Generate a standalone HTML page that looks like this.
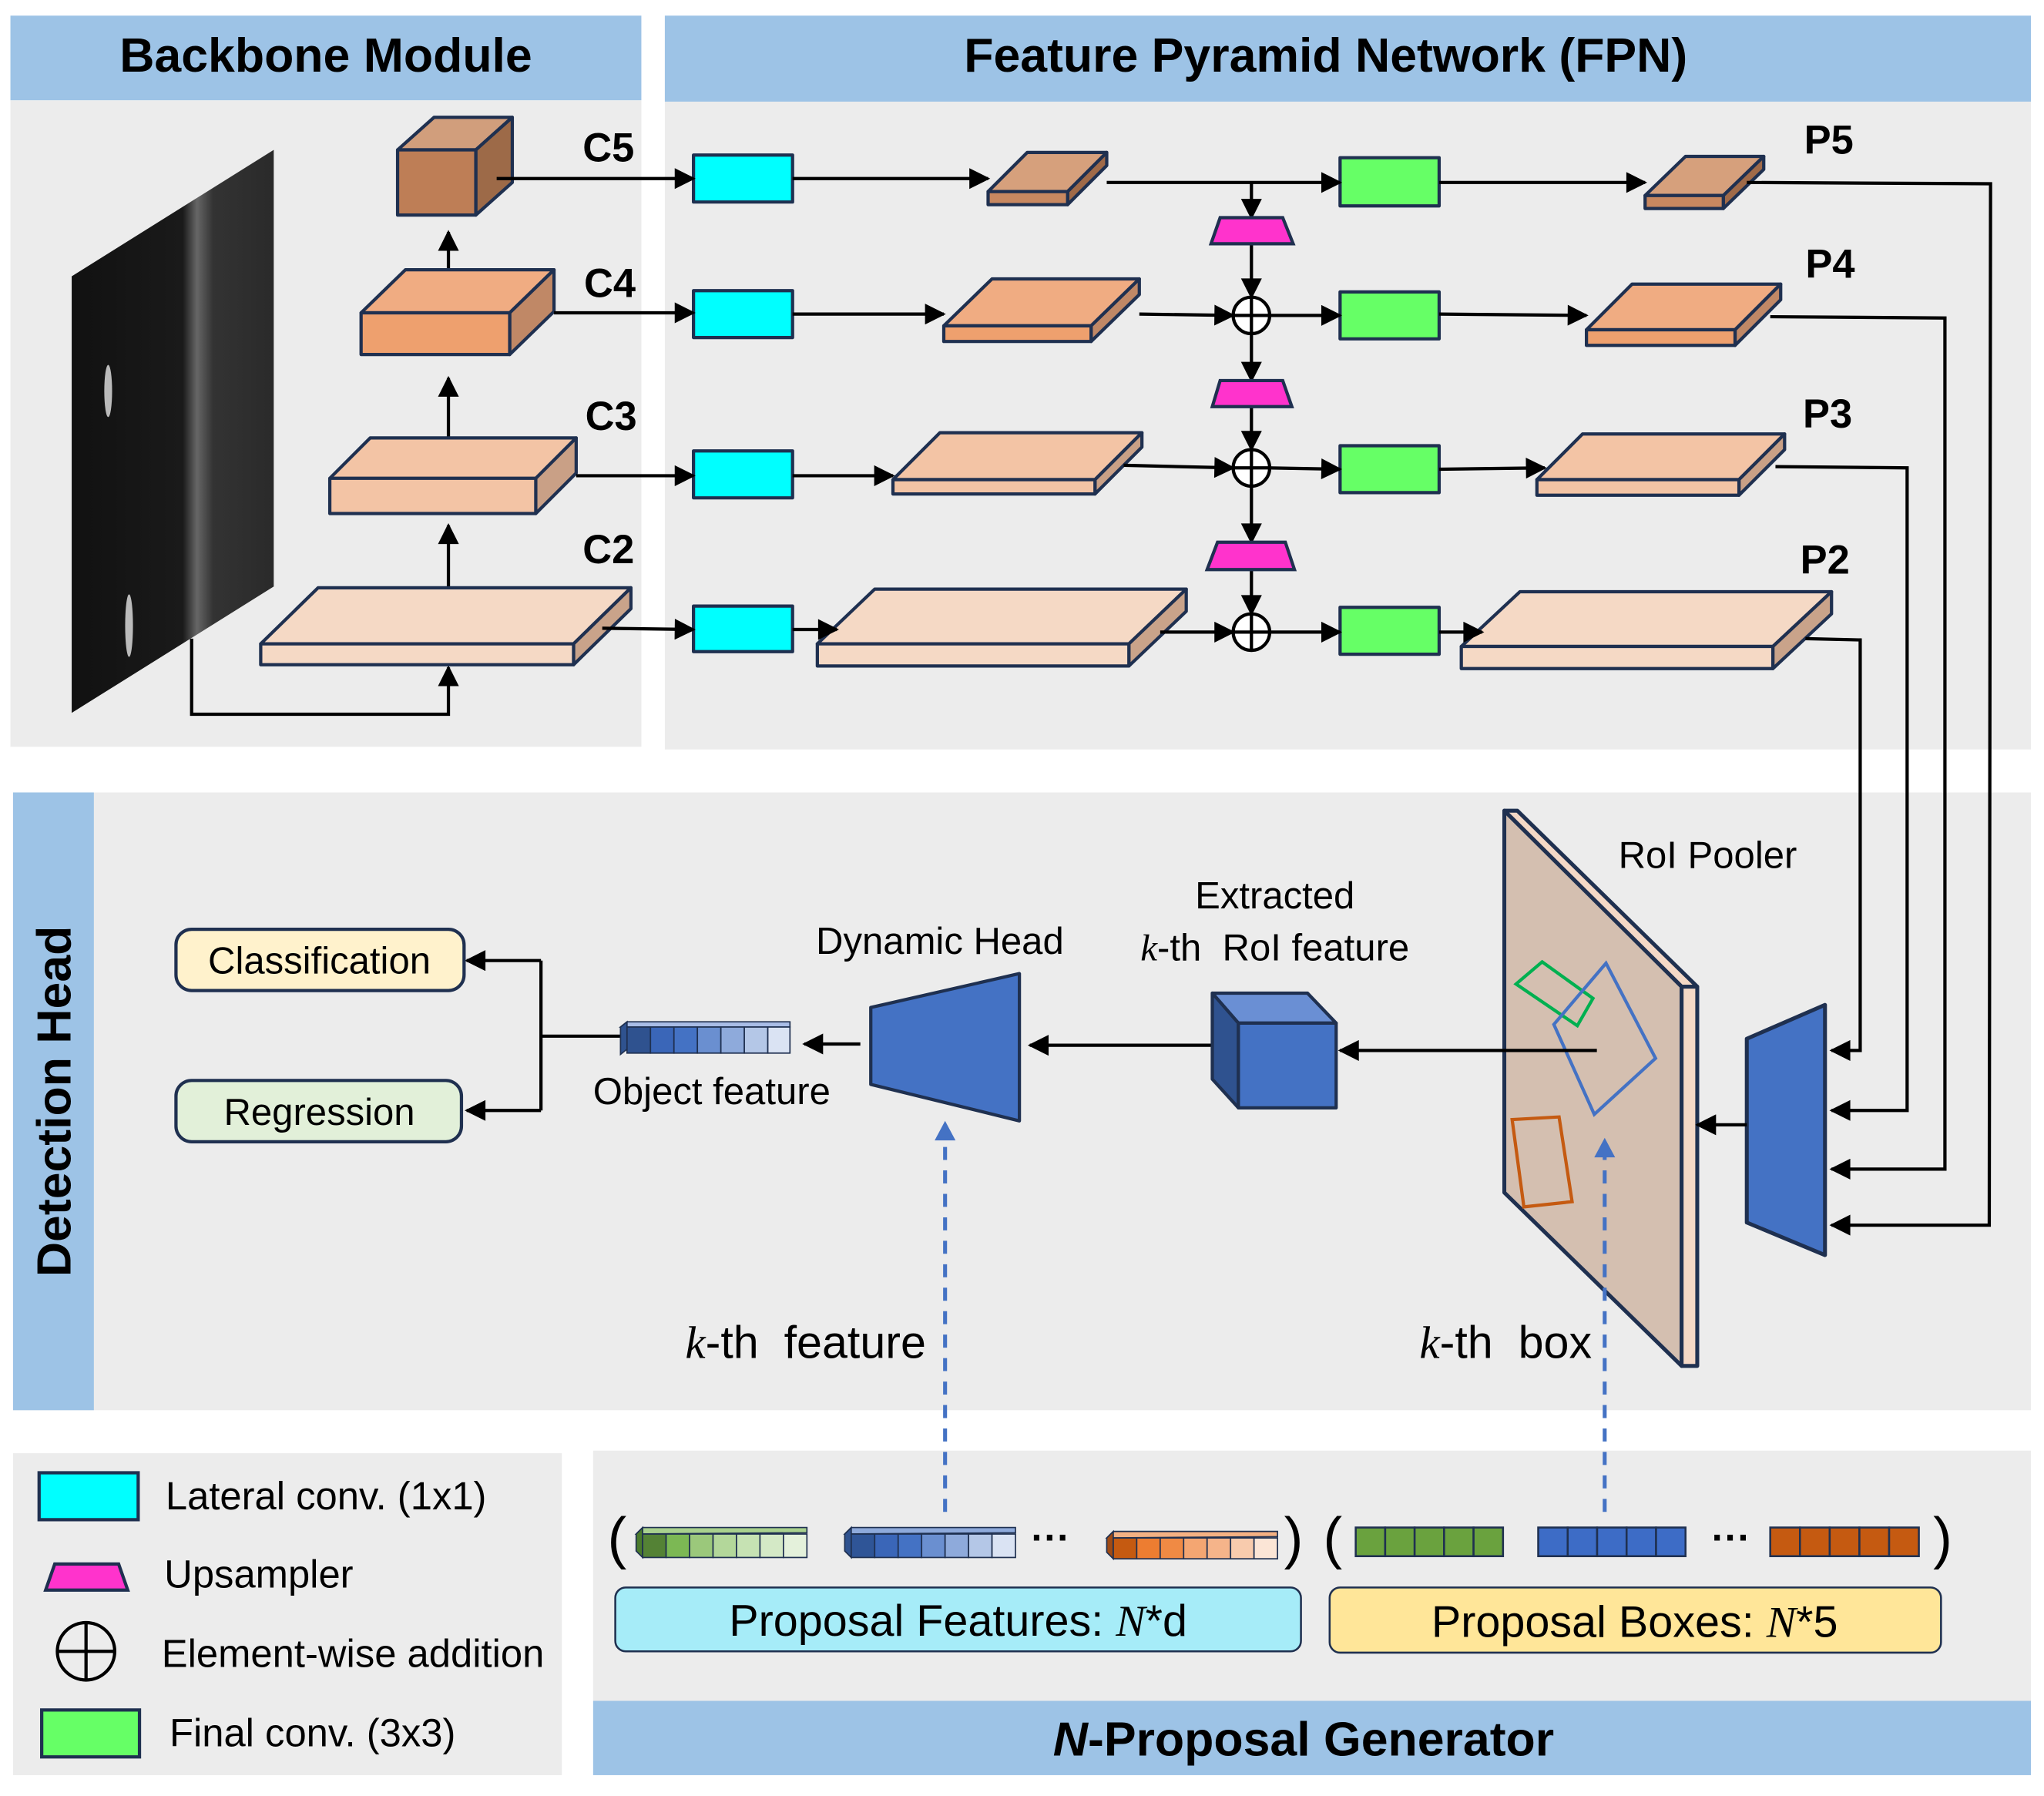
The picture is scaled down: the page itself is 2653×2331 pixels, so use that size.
<!DOCTYPE html>
<html><head><meta charset="utf-8"><style>
html,body{margin:0;padding:0;background:#fff;}
svg{display:block;}
text{font-family:"Liberation Sans",sans-serif;}
.b{font-weight:bold;}
</style></head><body>
<svg width="2653" height="2331" viewBox="0 0 1568 1378" preserveAspectRatio="none" xmlns="http://www.w3.org/2000/svg">
<defs>
<marker id="a" viewBox="0 0 10 10" refX="9" refY="5" markerWidth="18" markerHeight="16" markerUnits="userSpaceOnUse" orient="auto"><path d="M0,0 L10,5 L0,10 z" fill="#000"/></marker>
<linearGradient id="img" x1="0" y1="0" x2="1" y2="0">
<stop offset="0" stop-color="#111"/><stop offset="0.55" stop-color="#1a1a1a"/><stop offset="0.62" stop-color="#666"/><stop offset="0.7" stop-color="#333"/><stop offset="1" stop-color="#2a2a2a"/></linearGradient>
</defs>
<!-- panels -->
<rect x="8" y="12" width="484" height="65" fill="#9dc3e6"/>
<rect x="8" y="77" width="484" height="496" fill="#ececec"/>
<rect x="510" y="12" width="1048" height="66" fill="#9dc3e6"/>
<rect x="510" y="78" width="1048" height="497" fill="#ececec"/>
<text x="250" y="55" font-size="37" class="b" text-anchor="middle">Backbone Module</text>
<text x="1017" y="55" font-size="37" class="b" text-anchor="middle">Feature Pyramid Network (FPN)</text>
<rect x="10" y="608" width="1548" height="474" fill="#ececec"/>
<rect x="10" y="608" width="62" height="474" fill="#9dc3e6"/>
<text transform="translate(54,845) rotate(-90)" font-size="37" class="b" text-anchor="middle">Detection Head</text>
<rect x="10" y="1115" width="421" height="247" fill="#ececec"/>
<rect x="455" y="1113" width="1103" height="192" fill="#ececec"/>
<rect x="455" y="1305" width="1103" height="57" fill="#9dc3e6"/>
<text x="1000" y="1347" font-size="37" class="b" text-anchor="middle"><tspan font-style="italic">N</tspan>-Proposal Generator</text>

<!-- image -->
<polygon points="55,212 210,115 210,450 55,547" fill="url(#img)"/>
<ellipse cx="83" cy="300" rx="3" ry="20" fill="#bbb"/>
<ellipse cx="99" cy="480" rx="3" ry="24" fill="#bbb"/>
<polyline points="147,490 147,548 344,548 344,512" fill="none" stroke="#000" stroke-width="2.5" marker-end="url(#a)"/>
<line x1="344" y1="466" x2="344" y2="403" stroke="#000" stroke-width="2.5" marker-end="url(#a)"/>
<line x1="344" y1="354" x2="344" y2="290" stroke="#000" stroke-width="2.5" marker-end="url(#a)"/>
<line x1="344" y1="240" x2="344" y2="178" stroke="#000" stroke-width="2.5" marker-end="url(#a)"/>

<g stroke="#1f3050" stroke-width="2.5" stroke-linejoin="round">
<polygon points="200,494 244,451 484,451 440,494" fill="#f5d9c5"/><polygon points="440,494 484,451 484,467 440,510" fill="#c9a38a"/><rect x="200" y="494" width="240" height="16" fill="#f5d9c5"/>
<polygon points="253,367 284,336 442,336 411,367" fill="#f3c4a5"/><polygon points="411,367 442,336 442,363 411,394" fill="#c9a086"/><rect x="253" y="367" width="158" height="27" fill="#f3c4a5"/>
<polygon points="277,240 311,207 425,207 391,240" fill="#f0ac82"/><polygon points="391,240 425,207 425,239 391,272" fill="#c08866"/><rect x="277" y="240" width="114" height="32" fill="#eea06e"/>
<polygon points="305,115 333,90 393,90 365,115" fill="#d19e7c"/><polygon points="365,115 393,90 393,140 365,165" fill="#9d6a48"/><rect x="305" y="115" width="60" height="50" fill="#be7e56"/>
<polygon points="758,147 788,117 849,117 819,147" fill="#d6a07c"/><polygon points="819,147 849,117 849,127 819,157" fill="#a06a48"/><rect x="758" y="147" width="61" height="10" fill="#c88860"/>
<polygon points="724,250 761,214 874,214 837,250" fill="#f0ac82"/><polygon points="837,250 874,214 874,226 837,262" fill="#c08866"/><rect x="724" y="250" width="113" height="12" fill="#eea06e"/>
<polygon points="685,368 721,332 876,332 840,368" fill="#f3c4a5"/><polygon points="840,368 876,332 876,343 840,379" fill="#c9a086"/><rect x="685" y="368" width="155" height="11" fill="#f3c4a5"/>
<polygon points="627,494 671,452 910,452 866,494" fill="#f5d9c5"/><polygon points="866,494 910,452 910,469 866,511" fill="#c9a38a"/><rect x="627" y="494" width="239" height="17" fill="#f5d9c5"/>
<polygon points="1262,150 1293,120 1353,120 1322,150" fill="#d6a07c"/><polygon points="1322,150 1353,120 1353,130 1322,160" fill="#a06a48"/><rect x="1262" y="150" width="60" height="10" fill="#c88860"/>
<polygon points="1217,253 1252,218 1366,218 1331,253" fill="#f0ac82"/><polygon points="1331,253 1366,218 1366,230 1331,265" fill="#c08866"/><rect x="1217" y="253" width="114" height="12" fill="#eea06e"/>
<polygon points="1179,368 1214,333 1369,333 1334,368" fill="#f3c4a5"/><polygon points="1334,368 1369,333 1369,345 1334,380" fill="#c9a086"/><rect x="1179" y="368" width="155" height="12" fill="#f3c4a5"/>
<polygon points="1121,496 1166,454 1405,454 1360,496" fill="#f5d9c5"/><polygon points="1360,496 1405,454 1405,471 1360,513" fill="#c9a38a"/><rect x="1121" y="496" width="239" height="17" fill="#f5d9c5"/>
<rect x="532" y="119" width="76" height="36" fill="#00ffff"/><rect x="532" y="223" width="76" height="36" fill="#00ffff"/><rect x="532" y="346" width="76" height="36" fill="#00ffff"/><rect x="532" y="465" width="76" height="35" fill="#00ffff"/>
<rect x="1028" y="121" width="76" height="37" fill="#66ff66"/><rect x="1028" y="224" width="76" height="36" fill="#66ff66"/><rect x="1028" y="342" width="76" height="36" fill="#66ff66"/><rect x="1028" y="466" width="76" height="36" fill="#66ff66"/>
</g>
<g class="b" font-size="31" font-weight="bold">
<text x="447" y="124">C5</text><text x="448" y="228">C4</text><text x="449" y="330">C3</text><text x="447" y="432">C2</text>
<text x="1384" y="118">P5</text><text x="1385" y="213">P4</text><text x="1383" y="328">P3</text><text x="1381" y="440">P2</text>
</g>
<g stroke="#000" stroke-width="2.5" fill="none">
<line x1="381" y1="137" x2="532" y2="137" marker-end="url(#a)"/><line x1="608" y1="137" x2="758" y2="137" marker-end="url(#a)"/><line x1="849" y1="140" x2="1028" y2="140" marker-end="url(#a)"/><line x1="1104" y1="140" x2="1262" y2="140" marker-end="url(#a)"/>
<line x1="425" y1="240" x2="532" y2="240" marker-end="url(#a)"/><line x1="608" y1="241" x2="724" y2="241" marker-end="url(#a)"/><line x1="874" y1="241" x2="946" y2="242" marker-end="url(#a)"/><line x1="974" y1="242" x2="1028" y2="242" marker-end="url(#a)"/><line x1="1104" y1="241" x2="1217" y2="242" marker-end="url(#a)"/>
<line x1="442" y1="365" x2="532" y2="365" marker-end="url(#a)"/><line x1="608" y1="365" x2="685" y2="365" marker-end="url(#a)"/><line x1="862" y1="357" x2="946" y2="359" marker-end="url(#a)"/><line x1="974" y1="359" x2="1028" y2="360" marker-end="url(#a)"/><line x1="1104" y1="360" x2="1185" y2="359" marker-end="url(#a)"/>
<line x1="462" y1="482" x2="532" y2="483" marker-end="url(#a)"/><line x1="608" y1="483" x2="642" y2="483" marker-end="url(#a)"/><line x1="890" y1="485" x2="946" y2="485" marker-end="url(#a)"/><line x1="974" y1="485" x2="1028" y2="485" marker-end="url(#a)"/><line x1="1104" y1="485" x2="1137" y2="485" marker-end="url(#a)"/>
<line x1="960" y1="140" x2="960" y2="167" marker-end="url(#a)"/><line x1="960" y1="187" x2="960" y2="228" marker-end="url(#a)"/><line x1="960" y1="256" x2="960" y2="292" marker-end="url(#a)"/><line x1="960" y1="312" x2="960" y2="345" marker-end="url(#a)"/><line x1="960" y1="373" x2="960" y2="416" marker-end="url(#a)"/><line x1="960" y1="437" x2="960" y2="471" marker-end="url(#a)"/>
<polyline points="1340,140 1527,141 1526,940 1405,940" marker-end="url(#a)"/>
<polyline points="1358,243 1492,244 1492,897 1405,897" marker-end="url(#a)"/>
<polyline points="1362,358 1463,359 1463,852 1405,852" marker-end="url(#a)"/>
<polyline points="1385,490 1427,491 1427,806 1405,806" marker-end="url(#a)"/>
</g>
<g stroke="#1f3050" stroke-width="2.5" fill="#ff33cc">
<polygon points="936,167 984,167 992,187 929,187"/><polygon points="936,292 984,292 991,312 930,312"/><polygon points="934,416 986,416 993,437 926,437"/>
</g>
<g stroke="#000" stroke-width="2.5" fill="#fff">
<circle cx="960" cy="242" r="14"/><line x1="946" y1="242" x2="974" y2="242"/><line x1="960" y1="228" x2="960" y2="256"/>
<circle cx="960" cy="359" r="14"/><line x1="946" y1="359" x2="974" y2="359"/><line x1="960" y1="345" x2="960" y2="373"/>
<circle cx="960" cy="485" r="14"/><line x1="946" y1="485" x2="974" y2="485"/><line x1="960" y1="471" x2="960" y2="499"/>
</g>

<!-- Detection head -->
<g stroke="#1f3050" stroke-width="3" stroke-linejoin="round">
<polygon points="1154,622 1164,622 1302,757 1290,757" fill="#f4d8c6"/>
<polygon points="1154,622 1290,757 1290,1048 1154,915" fill="#d4bfb0"/>
<rect x="1290" y="757" width="12" height="291" fill="#f4d8c6"/>
<polygon points="1340,797 1400,771 1400,963 1340,938" fill="#4472c4"/>
</g>
<g fill="none" stroke-width="2.5">
<polygon points="1183,738 1222,766 1210,787 1163,755" stroke="#00b050" transform="translate(0,-0)"/>
<polygon points="1232,739 1270,812 1223,855 1192,786" stroke="#4472c4"/>
<polygon points="1160,859 1196,857 1206,922 1169,926" stroke="#c55a11"/>
</g>
<text x="1310" y="666" font-size="29" text-anchor="middle">RoI Pooler</text>
<g stroke="#000" stroke-width="2.5" fill="none">
<line x1="1340" y1="863" x2="1302" y2="863" marker-end="url(#a)"/>
<line x1="1225" y1="806" x2="1028" y2="806" marker-end="url(#a)"/>
<line x1="930" y1="802" x2="790" y2="802" marker-end="url(#a)"/>
<line x1="660" y1="801" x2="617" y2="801" marker-end="url(#a)"/>
<polyline points="476,795 415,795"/>
<polyline points="415,737 415,852"/>
<line x1="415" y1="737" x2="358" y2="737" marker-end="url(#a)"/>
<line x1="415" y1="852" x2="358" y2="852" marker-end="url(#a)"/>
</g>
<g stroke="#1f3050" stroke-width="2.5" stroke-linejoin="round">
<polygon points="930,762 1003,762 1025,785 950,785" fill="#6a8fd4"/>
<polygon points="930,762 950,785 950,850 930,828" fill="#2f528f"/>
<rect x="950" y="785" width="75" height="65" fill="#4472c4"/>
<polygon points="668,773 782,747 782,860 668,832" fill="#4472c4"/>
<rect x="135" y="713" width="221" height="47" rx="12" fill="#fff2cc"/>
<rect x="135" y="829" width="219" height="47" rx="12" fill="#e2f0d9"/>
</g>
<text x="245" y="747" font-size="29" text-anchor="middle">Classification</text>
<text x="245" y="863" font-size="29" text-anchor="middle">Regression</text>
<g stroke="#1f3050" stroke-width="1">
<polygon points="476,788 481,784 606,784 606,788" fill="#a9bde6"/>
<polygon points="476,788 481,784 481,805 476,809" fill="#2f528f"/>
<rect x="481" y="788" width="18" height="20" fill="#2f528f"/><rect x="499" y="788" width="18" height="20" fill="#3a66b8"/><rect x="517" y="788" width="18" height="20" fill="#4472c4"/><rect x="535" y="788" width="18" height="20" fill="#6a8fd0"/><rect x="553" y="788" width="18" height="20" fill="#8eaadb"/><rect x="571" y="788" width="18" height="20" fill="#b4c7e7"/><rect x="589" y="788" width="17" height="20" fill="#dae3f3"/>
</g>
<text x="721" y="732" font-size="29" text-anchor="middle">Dynamic Head</text>
<text x="978" y="697" font-size="29" text-anchor="middle">Extracted</text>
<text x="978" y="737" font-size="29" text-anchor="middle"><tspan font-family="Liberation Serif" font-style="italic">k</tspan>-th&#160;&#160;RoI feature</text>
<text x="546" y="847" font-size="29" text-anchor="middle">Object feature</text>
<text x="618" y="1042" font-size="35" text-anchor="middle"><tspan font-family="Liberation Serif" font-style="italic">k</tspan>-th&#160;&#160;feature</text>
<text x="1155" y="1042" font-size="35" text-anchor="middle"><tspan font-family="Liberation Serif" font-style="italic">k</tspan>-th&#160;&#160;box</text>
<g stroke="#4472c4" stroke-width="3" stroke-dasharray="10,8">
<line x1="725" y1="1160" x2="725" y2="872"/>
<line x1="1231" y1="1160" x2="1231" y2="886"/>
</g>
<polygon points="725,860 717,875 733,875" fill="#4472c4"/>
<polygon points="1231,873 1223,888 1239,888" fill="#4472c4"/>

<!-- proposals -->
<text x="466" y="1195" font-size="44">(</text>
<text x="985" y="1195" font-size="44">)</text>
<text x="1015" y="1195" font-size="44">(</text>
<text x="1483" y="1195" font-size="44">)</text>
<text x="806" y="1190" font-size="30" class="b" text-anchor="middle">···</text>
<text x="1328" y="1190" font-size="30" class="b" text-anchor="middle">···</text>
<g stroke="#1f3050" stroke-width="1">
<polygon points="488,1177 493,1172 619,1172 619,1176" fill="#a9d18e"/>
<polygon points="488,1177 493,1172 493,1195 488,1190" fill="#4a7a2c"/>
<rect x="493" y="1177" width="18" height="18" fill="#548235"/><rect x="511" y="1177" width="18" height="18" fill="#7cb854"/><rect x="529" y="1177" width="18" height="18" fill="#9bc87b"/><rect x="547" y="1177" width="18" height="18" fill="#b3d79a"/><rect x="565" y="1177" width="18" height="18" fill="#c6e2b3"/><rect x="583" y="1177" width="18" height="18" fill="#d4e9c6"/><rect x="601" y="1177" width="18" height="18" fill="#e4f1db"/>
<polygon points="648,1177 653,1172 779,1172 779,1176" fill="#8eaadb"/>
<polygon points="648,1177 653,1172 653,1195 648,1190" fill="#2f528f"/>
<rect x="653" y="1177" width="18" height="18" fill="#2f5597"/><rect x="671" y="1177" width="18" height="18" fill="#3a66b8"/><rect x="689" y="1177" width="18" height="18" fill="#4472c4"/><rect x="707" y="1177" width="18" height="18" fill="#6a8fd0"/><rect x="725" y="1177" width="18" height="18" fill="#8eaadb"/><rect x="743" y="1177" width="18" height="18" fill="#b4c7e7"/><rect x="761" y="1177" width="18" height="18" fill="#dae3f3"/>
<polygon points="849,1180 854,1175 980,1175 980,1179" fill="#f4b183"/>
<polygon points="849,1180 854,1175 854,1196 849,1191" fill="#a04a14"/>
<rect x="854" y="1180" width="18" height="16" fill="#c55a11"/><rect x="872" y="1180" width="18" height="16" fill="#ed7d31"/><rect x="890" y="1180" width="18" height="16" fill="#f08a44"/><rect x="908" y="1180" width="18" height="16" fill="#f4a672"/><rect x="926" y="1180" width="18" height="16" fill="#f5b48a"/><rect x="944" y="1180" width="18" height="16" fill="#f8cbad"/><rect x="962" y="1180" width="18" height="16" fill="#fbe5d6"/>
</g>
<g stroke="#1f3050" stroke-width="1.5">
<rect x="1040" y="1172" width="22.6" height="22" fill="#6aa23e"/><rect x="1062.6" y="1172" width="22.6" height="22" fill="#6aa23e"/><rect x="1085.2" y="1172" width="22.6" height="22" fill="#6aa23e"/><rect x="1107.8" y="1172" width="22.6" height="22" fill="#6aa23e"/><rect x="1130.4" y="1172" width="22.6" height="22" fill="#6aa23e"/>
<rect x="1180" y="1172" width="22.6" height="22" fill="#3d6cc6"/><rect x="1202.6" y="1172" width="22.6" height="22" fill="#3d6cc6"/><rect x="1225.2" y="1172" width="22.6" height="22" fill="#3d6cc6"/><rect x="1247.8" y="1172" width="22.6" height="22" fill="#3d6cc6"/><rect x="1270.4" y="1172" width="22.6" height="22" fill="#3d6cc6"/>
<rect x="1358" y="1172" width="22.8" height="22" fill="#c55a11"/><rect x="1380.8" y="1172" width="22.8" height="22" fill="#c55a11"/><rect x="1403.6" y="1172" width="22.8" height="22" fill="#c55a11"/><rect x="1426.4" y="1172" width="22.8" height="22" fill="#c55a11"/><rect x="1449.2" y="1172" width="22.8" height="22" fill="#c55a11"/>
</g>
<rect x="472" y="1218" width="526" height="49" rx="8" fill="#a6ecf8" stroke="#1f3050" stroke-width="1.5"/>
<rect x="1020" y="1218" width="469" height="50" rx="8" fill="#ffe699" stroke="#1f3050" stroke-width="1.5"/>
<text x="735" y="1255" font-size="34" text-anchor="middle">Proposal Features: <tspan font-family="Liberation Serif" font-style="italic">N</tspan>*d</text>
<text x="1254" y="1256" font-size="34" text-anchor="middle">Proposal Boxes: <tspan font-family="Liberation Serif" font-style="italic">N</tspan>*5</text>

<!-- legend -->
<rect x="30" y="1130" width="76" height="36" fill="#00ffff" stroke="#1f3050" stroke-width="2.5"/>
<polygon points="42,1200 91,1200 98,1220 35,1220" fill="#ff33cc" stroke="#1f3050" stroke-width="2.5"/>
<circle cx="66" cy="1267" r="22" fill="none" stroke="#000" stroke-width="2.5"/><line x1="44" y1="1267" x2="88" y2="1267" stroke="#000" stroke-width="2.5"/><line x1="66" y1="1245" x2="66" y2="1289" stroke="#000" stroke-width="2.5"/>
<rect x="32" y="1312" width="75" height="36" fill="#66ff66" stroke="#1f3050" stroke-width="2.5"/>
<g font-size="30">
<text x="127" y="1158">Lateral conv. (1x1)</text>
<text x="126" y="1218">Upsampler</text>
<text x="124" y="1279">Element-wise addition</text>
<text x="130" y="1340">Final conv. (3x3)</text>
</g>
</svg>
</body></html>
